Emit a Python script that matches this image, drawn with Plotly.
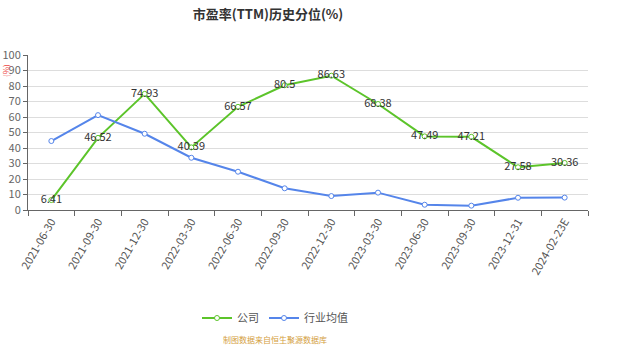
import plotly.graph_objects as go

categories = ["2021-06-30", "2021-09-30", "2021-12-30", "2022-03-30", "2022-06-30",
              "2022-09-30", "2022-12-30", "2023-03-30", "2023-06-30", "2023-09-30",
              "2023-12-31", "2024-02-23E"]
company = [6.41, 46.52, 74.93, 40.39, 66.57, 80.5, 86.63, 68.38, 47.49, 47.21, 27.58, 30.36]
industry = [44.5, 61.2, 49.2, 33.7, 24.7, 14.0, 9.0, 11.2, 3.4, 2.8, 7.9, 8.0]
company_labels = ["6.41", "46.52", "74.93", "40.39", "66.57", "80.5", "86.63", "68.38",
                  "47.49", "47.21", "27.58", "30.36"]
y_ticks = [0, 10, 20, 30, 40, 50, 60, 70, 80, 90, 100]

GREEN = "#5cc42a"
BLUE = "#5585ea"
W, H = 625, 357
ML, MR, MT, MB = 28, 37, 55, 147
PW, PH = W - ML - MR, H - MT - MB


def px_x(x):
    return (x - ML) / PW


def px_y(y):
    return (H - MB - y) / PH


fig = go.Figure()
fig.add_trace(go.Scatter(
    x=categories, y=company, name="公司", mode="lines+markers+text",
    line=dict(color=GREEN, width=2),
    marker=dict(symbol="circle", size=5, color="white", line=dict(color=GREEN, width=1)),
    text=company_labels, textposition="middle center",
    textfont=dict(size=11, color="#333333", family="Noto Sans CJK SC"),
))
fig.add_trace(go.Scatter(
    x=categories, y=industry, name="行业均值", mode="lines+markers",
    line=dict(color=BLUE, width=2),
    marker=dict(symbol="circle", size=5, color="white", line=dict(color=BLUE, width=1)),
))

fig.update_layout(
    width=W, height=H,
    margin=dict(l=ML, r=MR, t=MT, b=MB),
    paper_bgcolor="white", plot_bgcolor="white",
    font=dict(family="Noto Sans CJK SC", size=11, color="#666666"),
    title=dict(text="<b>市盈率(TTM)历史分位(%)</b>", x=268 / W, xanchor="center",
               y=1 - 14 / H, yanchor="middle",
               font=dict(size=13, color="#333333")),
    showlegend=True,
    legend=dict(orientation="h", x=px_x(275), xanchor="center",
                y=px_y(318), yanchor="middle", itemwidth=30,
                font=dict(size=11, color="#555555")),
    xaxis=dict(type="category", tickangle=-60, showgrid=False, automargin=False,
               showline=True, linecolor="#666666", linewidth=1,
               ticks="outside", tickson="boundaries", ticklen=5, tickcolor="#666666",
               tickfont=dict(size=11, color="#555555"), range=[-0.5, 11.5]),
    yaxis=dict(range=[0, 100], tickvals=y_ticks, showgrid=True, gridcolor="#dddddd",
               showline=True, linecolor="#666666", linewidth=1, automargin=False,
               ticks="outside", ticklen=4, tickcolor="#666666",
               tickfont=dict(size=11, color="#666666"), zeroline=False),
    annotations=[
        dict(text="制图数据来自恒生聚源数据库", x=px_x(275), y=px_y(339),
             xref="paper", yref="paper", xanchor="center", yanchor="middle",
             showarrow=False, font=dict(size=8, color="#d4a040")),
        dict(text="(%)", x=px_x(5), y=px_y(71), textangle=-90,
             xref="paper", yref="paper", xanchor="center", yanchor="middle",
             showarrow=False, font=dict(size=8, color="#ee4444")),
    ],
)

fig.write_html("out.html", config={"displayModeBar": False},
               post_script="document.body.style.margin='0';")
